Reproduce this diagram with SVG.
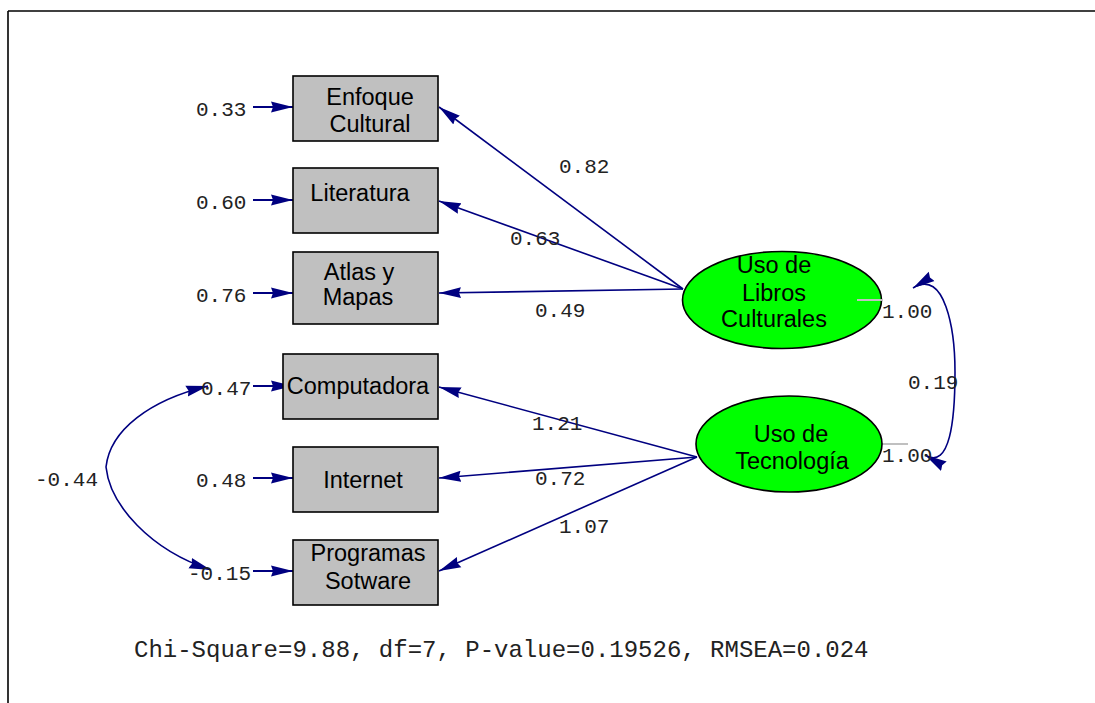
<svg xmlns="http://www.w3.org/2000/svg" width="1095" height="703" viewBox="0 0 1095 703">
<style>
.box{fill:#c0c0c0;stroke:#000;stroke-width:1.6}
.lat{fill:#00ff00;stroke:#000;stroke-width:1.6}
.nt{font-family:"Liberation Sans",Arial,sans-serif;font-size:23.5px;fill:#000;text-anchor:middle}
.num{font-family:"Liberation Mono","Courier New",monospace;font-size:21px;fill:#222}
.arr{fill:none;stroke:#000080;stroke-width:1.6}
.err{fill:none;stroke:#000080;stroke-width:2}
.tick{stroke:#c0c0c0;stroke-width:2}
</style>
<defs>
<marker id="ah" viewBox="0 0 22 12" refX="22" refY="6" markerWidth="22" markerHeight="12" markerUnits="userSpaceOnUse" orient="auto-start-reverse">
<path d="M22 6 L0 0.5 L2 6 L0 11.5 Z" fill="#000080"/>
</marker>
</defs>
<rect width="1095" height="703" fill="#fff"/>
<g id="frame">
<line x1="8" y1="11" x2="1095" y2="11" stroke="#000" stroke-width="1.6"/>
<line x1="8" y1="11" x2="8" y2="703" stroke="#000" stroke-width="1.6"/>
</g>
<g id="connectors">
<line class="err" x1="253" y1="107" x2="293" y2="107" marker-end="url(#ah)"/>
<line class="err" x1="253" y1="200" x2="293" y2="200" marker-end="url(#ah)"/>
<line class="err" x1="253" y1="293" x2="293" y2="293" marker-end="url(#ah)"/>
<line class="err" x1="253" y1="386" x2="293" y2="386" marker-end="url(#ah)"/>
<line class="err" x1="253" y1="478" x2="293" y2="478" marker-end="url(#ah)"/>
<line class="err" x1="253" y1="571" x2="293" y2="571" marker-end="url(#ah)"/>
<path class="arr" d="M683 289 L439 107" marker-end="url(#ah)"/>
<path class="arr" d="M683 289 L439 201" marker-end="url(#ah)"/>
<path class="arr" d="M683 289 L439 293" marker-end="url(#ah)"/>
<path class="arr" d="M697 457 L439 387" marker-end="url(#ah)"/>
<path class="arr" d="M697 457 L439 478" marker-end="url(#ah)"/>
<path class="arr" d="M697 457 L439 571" marker-end="url(#ah)"/>
<path class="arr" d="M208 386 C150 400 110 430 106 467 C110 505 150 550 211 570" marker-start="url(#ah)" marker-end="url(#ah)"/>
<path class="arr" d="M913 288 C945 268 955 330 955 372 C955 420 950 470 925 455" marker-start="url(#ah)" marker-end="url(#ah)"/>
<line class="tick" x1="882" y1="444" x2="908" y2="444"/>
</g>
<g id="labels">
<text class="num" x="196" y="116">0.33</text>
<text class="num" x="196" y="209">0.60</text>
<text class="num" x="196" y="302">0.76</text>
<text class="num" x="201" y="395">0.47</text>
<text class="num" x="196" y="487">0.48</text>
<text class="num" x="188" y="580">-0.15</text>
<text class="num" x="35" y="486">-0.44</text>
<text class="num" x="559" y="173">0.82</text>
<text class="num" x="510" y="245">0.63</text>
<text class="num" x="535" y="317">0.49</text>
<text class="num" x="532" y="430">1.21</text>
<text class="num" x="535" y="485">0.72</text>
<text class="num" x="559" y="533">1.07</text>
<text class="num" x="882" y="318">1.00</text>
<text class="num" x="882" y="462">1.00</text>
<text class="num" x="908" y="389">0.19</text>
<text class="num" x="134" y="657" style="font-size:24px">Chi-Square=9.88, df=7, P-value=0.19526, RMSEA=0.024</text>
</g>
<g id="n_enfoque">
<rect class="box" x="293" y="76" width="145" height="65"/>
<text class="nt" x="370" y="105">Enfoque</text>
<text class="nt" x="370" y="132">Cultural</text>
</g>
<g id="n_literatura">
<rect class="box" x="293" y="168" width="145" height="65"/>
<text class="nt" x="360" y="201">Literatura</text>
</g>
<g id="n_atlas">
<rect class="box" x="293" y="252" width="145" height="72"/>
<text class="nt" x="359" y="280">Atlas y</text>
<text class="nt" x="358" y="305">Mapas</text>
</g>
<g id="n_computadora">
<rect class="box" x="283" y="354" width="155" height="65"/>
<text class="nt" x="358" y="394">Computadora</text>
</g>
<g id="n_internet">
<rect class="box" x="293" y="447" width="145" height="65"/>
<text class="nt" x="363" y="488">Internet</text>
</g>
<g id="n_programas">
<rect class="box" x="293" y="540" width="145" height="65"/>
<text class="nt" x="368" y="561">Programas</text>
<text class="nt" x="368" y="589">Sotware</text>
</g>
<g id="n_libros">
<ellipse class="lat" cx="782" cy="300" rx="99.5" ry="48.5"/>
<line class="tick" x1="857" y1="300" x2="882" y2="300"/>
<text class="nt" x="774" y="273">Uso de</text>
<text class="nt" x="774" y="301">Libros</text>
<text class="nt" x="774" y="327">Culturales</text>
</g>
<g id="n_tecnologia">
<ellipse class="lat" cx="789" cy="444" rx="93" ry="48"/>
<text class="nt" x="791" y="442">Uso de</text>
<text class="nt" x="792" y="469">Tecnología</text>
</g>
</svg>
